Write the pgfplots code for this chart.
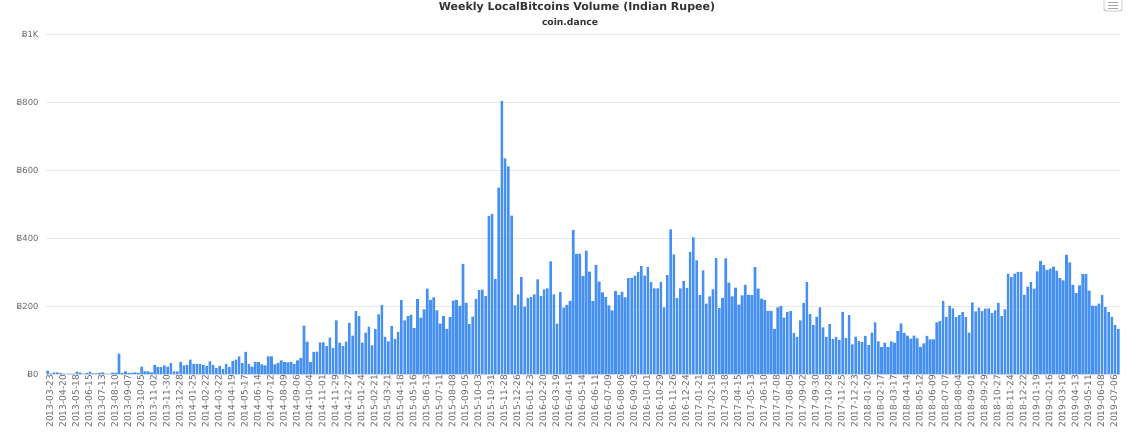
\documentclass[border=0pt]{standalone}
\usepackage{pgfplots}
\pgfplotsset{compat=1.18}
\usepackage{pgfplotstable}
\usepackage{fontspec}
\setmainfont{DejaVu Sans}
\definecolor{barblue}{RGB}{70,144,242}
\definecolor{titlegray}{RGB}{51,51,51}
\definecolor{labelgray}{RGB}{102,102,102}
\definecolor{gridgray}{RGB}{232,232,232}
\definecolor{axisline}{RGB}{204,214,235}

\pgfplotstableread[row sep=\\]{
v\\
10\\ 2\\ 5\\ 5\\ 3\\ 1\\ 1\\ 1\\ 1\\ 7\\
5\\ 1\\ 3\\ 7\\ 2\\ 2\\ 3\\ 5\\ 1\\ 0\\
4\\ 4\\ 60\\ 3\\ 8\\ 3\\ 4\\ 5\\ 3\\ 22\\
8\\ 8\\ 5\\ 27\\ 20\\ 20\\ 25\\ 22\\ 32\\ 8\\
8\\ 36\\ 25\\ 27\\ 42\\ 30\\ 30\\ 30\\ 27\\ 24\\
37\\ 27\\ 17\\ 24\\ 15\\ 30\\ 20\\ 38\\ 42\\ 52\\
32\\ 65\\ 30\\ 22\\ 36\\ 35\\ 28\\ 25\\ 52\\ 52\\
28\\ 33\\ 40\\ 35\\ 34\\ 36\\ 30\\ 40\\ 47\\ 142\\
95\\ 35\\ 65\\ 66\\ 93\\ 93\\ 83\\ 107\\ 77\\ 158\\
92\\ 82\\ 95\\ 150\\ 113\\ 185\\ 170\\ 92\\ 122\\ 139\\
84\\ 132\\ 175\\ 203\\ 109\\ 96\\ 141\\ 103\\ 124\\ 217\\
158\\ 170\\ 174\\ 135\\ 220\\ 166\\ 190\\ 251\\ 218\\ 225\\
187\\ 148\\ 170\\ 133\\ 167\\ 216\\ 217\\ 200\\ 324\\ 209\\
147\\ 169\\ 221\\ 247\\ 248\\ 229\\ 465\\ 471\\ 279\\ 548\\
803\\ 634\\ 611\\ 466\\ 202\\ 234\\ 285\\ 198\\ 224\\ 227\\
234\\ 278\\ 230\\ 249\\ 252\\ 331\\ 234\\ 148\\ 241\\ 195\\
203\\ 215\\ 423\\ 353\\ 354\\ 288\\ 363\\ 301\\ 214\\ 321\\
272\\ 240\\ 227\\ 202\\ 187\\ 244\\ 232\\ 242\\ 225\\ 282\\
283\\ 289\\ 300\\ 317\\ 289\\ 315\\ 270\\ 252\\ 252\\ 271\\
196\\ 291\\ 425\\ 352\\ 223\\ 252\\ 273\\ 253\\ 359\\ 402\\
334\\ 232\\ 305\\ 207\\ 228\\ 249\\ 341\\ 194\\ 224\\ 340\\
269\\ 228\\ 254\\ 204\\ 231\\ 262\\ 233\\ 232\\ 314\\ 251\\
222\\ 217\\ 186\\ 186\\ 133\\ 196\\ 200\\ 166\\ 183\\ 185\\
120\\ 109\\ 158\\ 209\\ 270\\ 176\\ 144\\ 168\\ 196\\ 137\\
109\\ 147\\ 103\\ 109\\ 100\\ 183\\ 106\\ 173\\ 87\\ 110\\
97\\ 94\\ 112\\ 85\\ 122\\ 152\\ 96\\ 79\\ 92\\ 79\\
96\\ 92\\ 126\\ 149\\ 121\\ 113\\ 104\\ 113\\ 105\\ 80\\
90\\ 112\\ 102\\ 102\\ 152\\ 156\\ 215\\ 168\\ 200\\ 193\\
167\\ 173\\ 182\\ 167\\ 122\\ 211\\ 184\\ 195\\ 185\\ 192\\
193\\ 179\\ 187\\ 209\\ 170\\ 190\\ 295\\ 285\\ 295\\ 300\\
300\\ 233\\ 257\\ 270\\ 251\\ 302\\ 332\\ 320\\ 306\\ 310\\
316\\ 304\\ 282\\ 275\\ 350\\ 328\\ 262\\ 238\\ 261\\ 294\\
294\\ 245\\ 201\\ 200\\ 207\\ 233\\ 197\\ 182\\ 168\\ 144\\ 133\\
}\volume

\begin{document}
\begin{tikzpicture}
\path[use as bounding box] (0pt,0pt) rectangle (1140pt,441pt);
\node[font=\bfseries\fontsize{11}{13}\selectfont, text=titlegray] at (577pt,433pt) {Weekly LocalBitcoins Volume (Indian Rupee)};
\node[font=\bfseries\fontsize{9.2}{11}\selectfont, text=titlegray] at (570pt,419pt) {coin.dance};
\draw[gray!55, line width=0.8pt, rounded corners=2pt] (1104pt,430pt) rectangle (1122pt,450pt);
\foreach \yy in {432.5pt,435.5pt,438.5pt}{\draw[gray!70, line width=0.8pt] (1108pt,\yy) -- (1118pt,\yy);}
\begin{axis}[
  at={(46pt,67pt)}, anchor=south west,
  scale only axis, width=1074pt, height=340pt,
  xmin=-0.5, xmax=330.5, ymin=0, ymax=1000,
  axis lines=left, axis line style={-},
  x axis line style={draw=axisline},
  y axis line style={draw=none},
  major tick length=0pt,
  ymajorgrids, grid style={draw=gridgray, line width=0.7pt},
  ytick={0,200,400,600,800,1000},
  yticklabels={Ƀ0,Ƀ200,Ƀ400,Ƀ600,Ƀ800,Ƀ1K},
  yticklabel style={font=\fontsize{8.4}{9}\selectfont, text=labelgray, anchor=east, xshift=-4pt},
  xtick={0,4,...,328},
  xticklabels={2013-03-23,2013-04-20,2013-05-18,2013-06-15,2013-07-13,2013-08-10,2013-09-07,2013-10-05,2013-11-02,2013-11-30,2013-12-28,2014-01-25,2014-02-22,2014-03-22,2014-04-19,2014-05-17,2014-06-14,2014-07-12,2014-08-09,2014-09-06,2014-10-04,2014-11-01,2014-11-29,2014-12-27,2015-01-24,2015-02-21,2015-03-21,2015-04-18,2015-05-16,2015-06-13,2015-07-11,2015-08-08,2015-09-05,2015-10-03,2015-10-31,2015-11-28,2015-12-26,2016-01-23,2016-02-20,2016-03-19,2016-04-16,2016-05-14,2016-06-11,2016-07-09,2016-08-06,2016-09-03,2016-10-01,2016-10-29,2016-11-26,2016-12-24,2017-01-21,2017-02-18,2017-03-18,2017-04-15,2017-05-13,2017-06-10,2017-07-08,2017-08-05,2017-09-02,2017-09-30,2017-10-28,2017-11-25,2017-12-23,2018-01-20,2018-02-17,2018-03-17,2018-04-14,2018-05-12,2018-06-09,2018-07-07,2018-08-04,2018-09-01,2018-09-29,2018-10-27,2018-11-24,2018-12-22,2019-01-19,2019-02-16,2019-03-16,2019-04-13,2019-05-11,2019-06-08,2019-07-06},
  xticklabel style={rotate=90, anchor=east, font=\fontsize{9}{10}\selectfont, text=labelgray, inner sep=1pt, yshift=-2pt},
  clip=false,
]
\addplot[ybar, bar width=0.8, bar shift=0pt, fill=barblue, draw=none] table[x expr=\coordindex, y=v] {\volume};
\end{axis}
\end{tikzpicture}
\end{document}
